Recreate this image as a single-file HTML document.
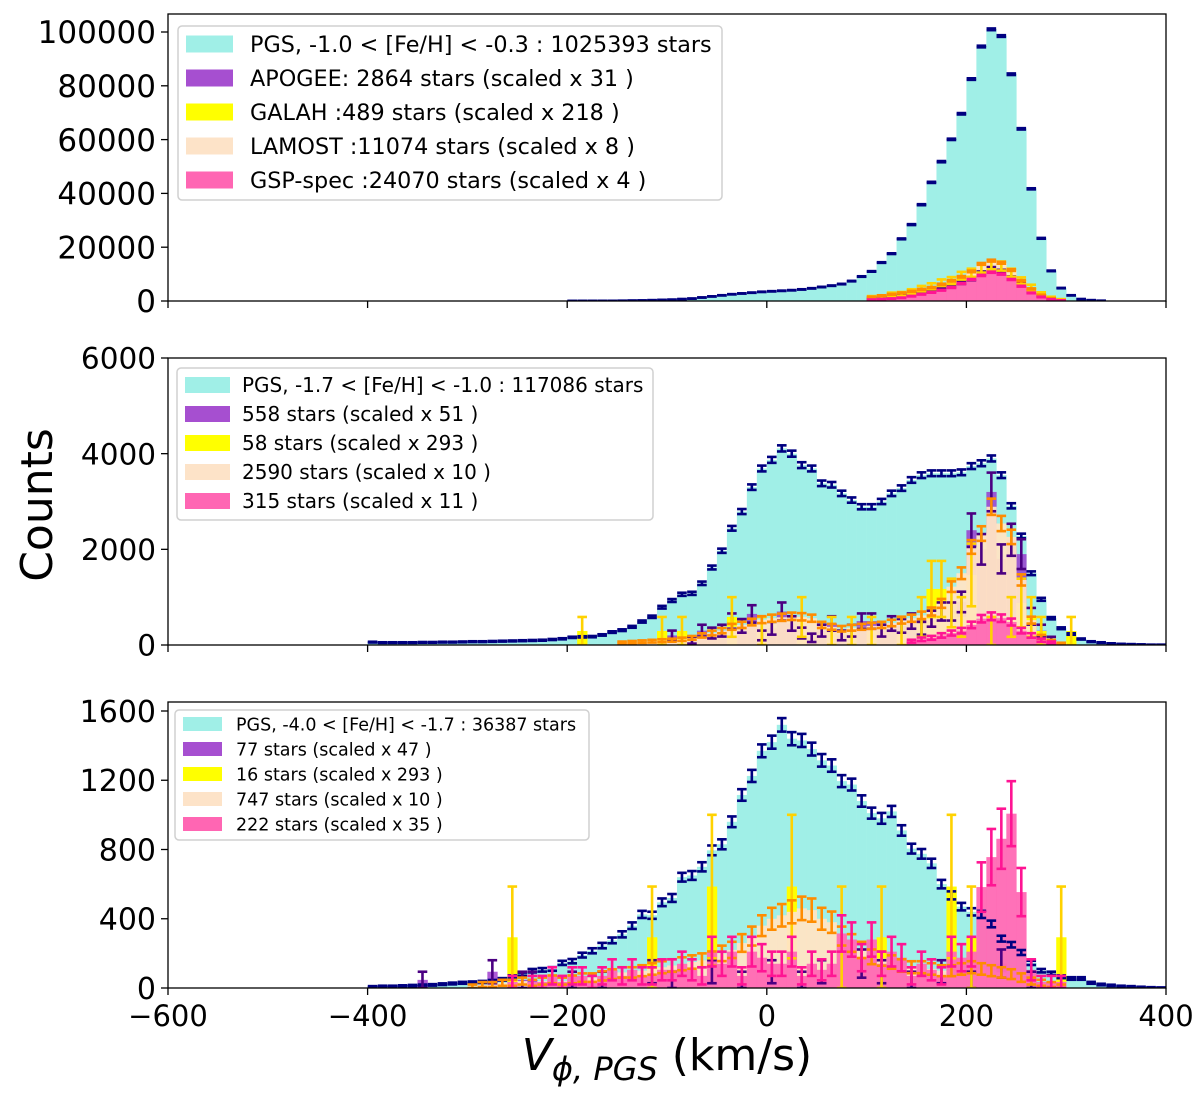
<!DOCTYPE html>
<html><head><meta charset="utf-8"><style>
html,body{margin:0;padding:0;background:#fff;}
svg{display:block;font-family:"DejaVu Sans","Liberation Sans",sans-serif;}
</style></head><body>
<svg id="chart" width="1200" height="1102" viewBox="0 0 1200 1102" xmlns="http://www.w3.org/2000/svg"></svg>
<script>
// ---------- data ----------
const binStart = -400;
const binWidth = 10;
const xTicks = [-600, -400, -200, 0, 200, 400];
const p1Ticks = [0, 20000, 40000, 60000, 80000, 100000];
const p2Ticks = [0, 2000, 4000, 6000];
const p3Ticks = [0, 400, 800, 1200, 1600];

const p1Pgs = [0,0,0,0,0,0,0,0,0,0, 0,0,0,0,0,0,0,0,0,0, 20,30,40,50,60,100,150,200,300,400, 500,700,900,1300,1700,2100,2500,2800,3100,3400,
 3600,3800,4000,4300,4700,5200,5700,6300,7400,9100, 11000,14300,17600,23100,28400,35800,44100,51800,60100,69600, 82500,94600,101000,98500,84300,64000,41700,23300,11200,4800, 2100,700,300,100,0,0,0,0,0,0];
const p1LamostStart = 100;
const p1Lamost = [1500,2000,2500,3000,3600,4300,5000,6200,7500,9000,11000,13800,15000,14200,11500,7500,4500,2200,1000,300];
const p1GspStart = 100;
const p1Gsp = [500,700,900,1200,1800,2500,3200,4000,5000,6500,8000,9500,10700,10000,8000,5500,3000,1500,600,200];
const p1GalahStart = 100;
const p1Galah = [1300,1500,2400,2600,3500,4600,5500,6800,7600,9400,10500,12200,13500,13000,10500,7500,5000,2500,1100,400];
const p1ApogeeStart = 100;
const p1Apogee = [900,1200,1500,2000,2600,3200,3900,4700,5600,6800,8200,10400,12000,11000,8600,6000,3600,1800,800,300];

const p2Pgs = [60,50,50,50,50,55,55,60,60,65,70,70,75,80,85,90,95,100,115,
 130,160,170,175,210,270,310,380,490,590,790,930,1060,1080,1290,1620,1970,2440,2790,3300,3690,
 3870,4110,4000,3760,3690,3380,3350,3170,3030,2890,2890,3000,3170,3280,3450,3550,3590,3590,3590,3610,
 3740,3800,3900,3550,2910,2280,1500,955,560,350,230,125,70,50,30,20,15,10,5,5];
const p2LamostStart = -150;
const p2Lamost = [50,60,70,80,90,100,120,150,200,250,300,380,420,480,530,560,580,600,590,560,420,380,340,360,380,400,420,460,520,560,620,700,870,1220,1500,2050,2330,2890,2540,2260,1360,520,170,80,30];
const p2GspStart = 140;
const p2Gsp = [80,120,150,200,250,300,420,550,600,560,480,300,200,100,50];
const p2ApogeeStart = -100;
const p2Apogee = [200,0,100,300,250,300,500,400,650,200, 350,700,450,250,150,300,450,200,300,500, 500,300,450,400,500,350,550,700,700,900, 2400,2000,3200,1800,2200,1900,600,300,100,0];
const p2GalahCenters = [-185,-105,-85,-35,-5,35,65,85,105,135,155,165,175,185,195,205,225,245,255,265,275,305];
const p2Galah = [293,293,293,586,293,586,293,293,293,293,586,1172,1172,879,586,1465,293,586,879,586,293,293];

const p3Pgs = [8,10,10,12,14,16,18,22,26,30, 32,35,40,50,65,80,100,105,110,145, 155,190,215,245,275,310,360,425,420,495, 520,640,650,700,795,830,960,1115,1225,1370,
 1420,1520,1440,1430,1380,1315,1285,1195,1175,1080, 1010,980,1020,910,805,775,720,600,535,470, 440,425,370,285,250,205,145,100,85,65, 55,55,30,20,15,10,8,5,3,2];
const p3GspStart = -260;
const p3Gsp = [35,0,35,35,70,35,70,70,35,70, 105,70,105,70,70,105,105,140,105,70, 210,140,210,70,210,175,
 140,140,210,70,140,105,140,315,280,175, 280,140,210,175,70,140,105,70,210,175, 210,583,756,862,1007,554,105,35,35,35];
const p3LamostStart = -300;
const p3Lamost = [10,20,20,30,30,40,30,40,50,40,50,60,60,70,80,90,90,100,110,120,130,140,150,160,170,200,220,260,300,360,
 400,420,440,460,450,400,380,300,260,220,180,170,150,130,120,120,110,100,100,110,120,110,100,90,80,60,40,30,20,10];
const p3ApogeeCenters = [-345,-275,-245,-235,-195,-165,-115,-95,-55,-25,5,35,55,95,115,145,175,205,235,265];
const p3Apogee = [47,94,47,47,47,47,94,47,94,47,94,47,94,141,94,47,94,47,141,47];
const p3GalahCenters = [-255,-115,-55,25,75,115,185,205,295];
const p3Galah = [293,293,586,586,293,293,586,293,293];

// ---------- drawing ----------
const NS = 'http://www.w3.org/2000/svg';
const svg = document.getElementById('chart');
function mk(tag, attrs, parent){ const e=document.createElementNS(NS,tag); for(const k in attrs) e.setAttribute(k,attrs[k]); (parent||svg).appendChild(e); return e; }
const X0 = 168, X1 = 1166;
function xs(v){ return X0 + (v + 600) * (X1 - X0) / 1000; }

const panels = [
 {name:'metal-rich', top:14, y0:301, ppu:269/100000, ticks:p1Ticks, fs:31, showX:false},
 {name:'intermediate', top:358, y0:645, ppu:287/6000, ticks:p2Ticks, fs:29.5, showX:false},
 {name:'metal-poor', top:702, y0:988, ppu:277/1600, ticks:p3Ticks, fs:30, showX:true}
];
const C = {pgs:'#a0efe7', pgsE:'#000080', apo:'rgba(153,50,204,0.8)', apoE:'#4b0082', gal:'#ffff00', galE:'#ffd200',
  lam:'rgba(255,228,196,0.95)', lamE:'#ff8c00', gsp:'rgba(255,105,180,0.95)', gspE:'#ff1493'};

function series(start, vals){ return vals.map((v,i)=>({l:start+i*binWidth, v:v})); }
function sparse(centers, vals){ return vals.map((v,i)=>({l:centers[i]-binWidth/2, v:v})); }

const seriesByPanel = [
 {pgs:series(binStart,p1Pgs), apo:series(p1ApogeeStart,p1Apogee), gal:series(p1GalahStart,p1Galah), lam:series(p1LamostStart,p1Lamost), gsp:series(p1GspStart,p1Gsp), sc:{apo:31,gal:218,lam:8,gsp:4}},
 {pgs:series(binStart,p2Pgs), apo:series(p2ApogeeStart,p2Apogee), gal:sparse(p2GalahCenters,p2Galah), lam:series(p2LamostStart,p2Lamost), gsp:series(p2GspStart,p2Gsp), sc:{apo:51,gal:293,lam:10,gsp:11}},
 {pgs:series(binStart,p3Pgs), apo:sparse(p3ApogeeCenters,p3Apogee), gal:sparse(p3GalahCenters,p3Galah), lam:series(p3LamostStart,p3Lamost), gsp:series(p3GspStart,p3Gsp), sc:{apo:47,gal:293,lam:10,gsp:35}}
];

const legends = [
 {x:178,y:26,w:544,h:174,fs:22.3,row:34,first:44,patchW:47,patchH:17,tx:250,labels:['PGS, -1.0 < [Fe/H] < -0.3 : 1025393 stars','APOGEE: 2864 stars (scaled x 31 )','GALAH :489 stars (scaled x 218 )','LAMOST :11074 stars (scaled x 8 )','GSP-spec :24070 stars (scaled x 4 )']},
 {x:177,y:368,w:476,h:152,fs:20,row:29,first:385,patchW:45,patchH:16,tx:242,labels:['PGS, -1.7 < [Fe/H] < -1.0 : 117086 stars','558 stars (scaled x 51 )','58 stars (scaled x 293 )','2590 stars (scaled x 10 )','315 stars (scaled x 11 )']},
 {x:175,y:710,w:414,h:130,fs:17.5,row:25,first:724,patchW:39,patchH:14,tx:236,labels:['PGS, -4.0 < [Fe/H] < -1.7 : 36387 stars','77 stars (scaled x 47 )','16 stars (scaled x 293 )','747 stars (scaled x 10 )','222 stars (scaled x 35 )']}
];
const legendColors = [C.pgs,'#a64fd0','#ffff00','#fde3c8','#ff66b3'];

panels.forEach((p,pi)=>{
  const g = mk('g',{});
  
  
  const ys = v => p.y0 - v * p.ppu;
  const cid = 'clip'+pi;
  const cp = mk('clipPath',{id:cid}, g);
  mk('rect',{x:X0,y:p.top,width:X1-X0,height:p.y0-p.top}, cp);
  const plot = mk('g',{'clip-path':'url(#'+cid+')'}, g);
  
  
  const S = seriesByPanel[pi];
  const fills = [['pgs',C.pgs],['apo',C.apo],['gal',C.gal],['lam',C.lam],['gsp',C.gsp]];
  fills.forEach(([k,col])=>{
    S[k].forEach(b=>{
      if(b.v<=0) return;
      const r = mk('rect',{x:xs(b.l),y:ys(b.v),width:xs(b.l+binWidth)-xs(b.l)+0.3,height:b.v*p.ppu,fill:col}, plot);
      
      
    });
  });
  const errs = [['pgs',C.pgsE,1],['apo',C.apoE,S.sc.apo],['gal',C.galE,S.sc.gal],['lam',C.lamE,S.sc.lam],['gsp',C.gspE,S.sc.gsp]];
  errs.forEach(([k,col,sc])=>{
    S[k].forEach(b=>{
      if(b.v<=0) return;
      const e = Math.sqrt(b.v*sc);
      const cx = xs(b.l+binWidth/2);
      const yt = ys(b.v+e), yb = ys(Math.max(b.v-e,0));
      const eg = mk('g',{stroke:col,'stroke-width':2.6,fill:'none'}, plot);
      
      
      mk('line',{x1:cx,y1:yt,x2:cx,y2:yb}, eg);
      mk('line',{x1:cx-4.8,y1:yt,x2:cx+4.8,y2:yt}, eg);
      mk('line',{x1:cx-4.8,y1:yb,x2:cx+4.8,y2:yb}, eg);
    });
  });
  const fr = mk('rect',{x:X0,y:p.top,width:X1-X0,height:p.y0-p.top,fill:'none',stroke:'#000','stroke-width':1.3}, g);
  
  
  p.ticks.forEach(t=>{
    const y = ys(t);
    mk('line',{x1:X0-7,y1:y,x2:X0,y2:y,stroke:'#000','stroke-width':1.3}, g);
    const tx = mk('text',{x:X0-12,y:y+p.fs*0.36,'text-anchor':'end','font-size':p.fs,fill:'#000'}, g);
    tx.textContent = t;
    
    
  });
  xTicks.forEach(t=>{
    const x = xs(t);
    mk('line',{x1:x,y1:p.y0,x2:x,y2:p.y0+7,stroke:'#000','stroke-width':1.3}, g);
    if(p.showX){
      const tx = mk('text',{x:x,y:p.y0+38,'text-anchor':'middle','font-size':29,fill:'#000'}, g);
      tx.textContent = t<0 ? '\u2212'+Math.abs(t) : String(t);
      
      
    }
  });
  const L = legends[pi];
  const lg = mk('g',{}, g);
  
  
  mk('rect',{x:L.x,y:L.y,width:L.w,height:L.h,rx:4,fill:'rgba(255,255,255,0.85)',stroke:'#d0d0d0','stroke-width':1.5}, lg);
  L.labels.forEach((lab,i)=>{
    const cy = L.first + i*L.row;
    const en = mk('g',{}, lg);
    
    
    mk('rect',{x:L.x+8,y:cy-L.patchH/2,width:L.patchW,height:L.patchH,fill:legendColors[i]}, en);
    const tx = mk('text',{x:L.tx,y:cy+L.fs*0.36,'font-size':L.fs,fill:'#000'}, en);
    tx.textContent = lab;
  });
});

const yt = mk('text',{x:0,y:0,'font-size':44,'text-anchor':'middle',fill:'#000',transform:'translate(52,505) rotate(-90)'});
yt.textContent = 'Counts';


const xt = mk('text',{x:667,y:1070,'font-size':44,'text-anchor':'middle',fill:'#000'});


const t1 = mk('tspan',{'font-style':'italic'}, xt); t1.textContent = 'V';
const t2 = mk('tspan',{'font-style':'italic','font-size':32,dy:10}, xt); t2.textContent = '\u03d5, PGS';
const t3 = mk('tspan',{dy:-10}, xt); t3.textContent = ' (km/s)';
</script>
</body></html>
